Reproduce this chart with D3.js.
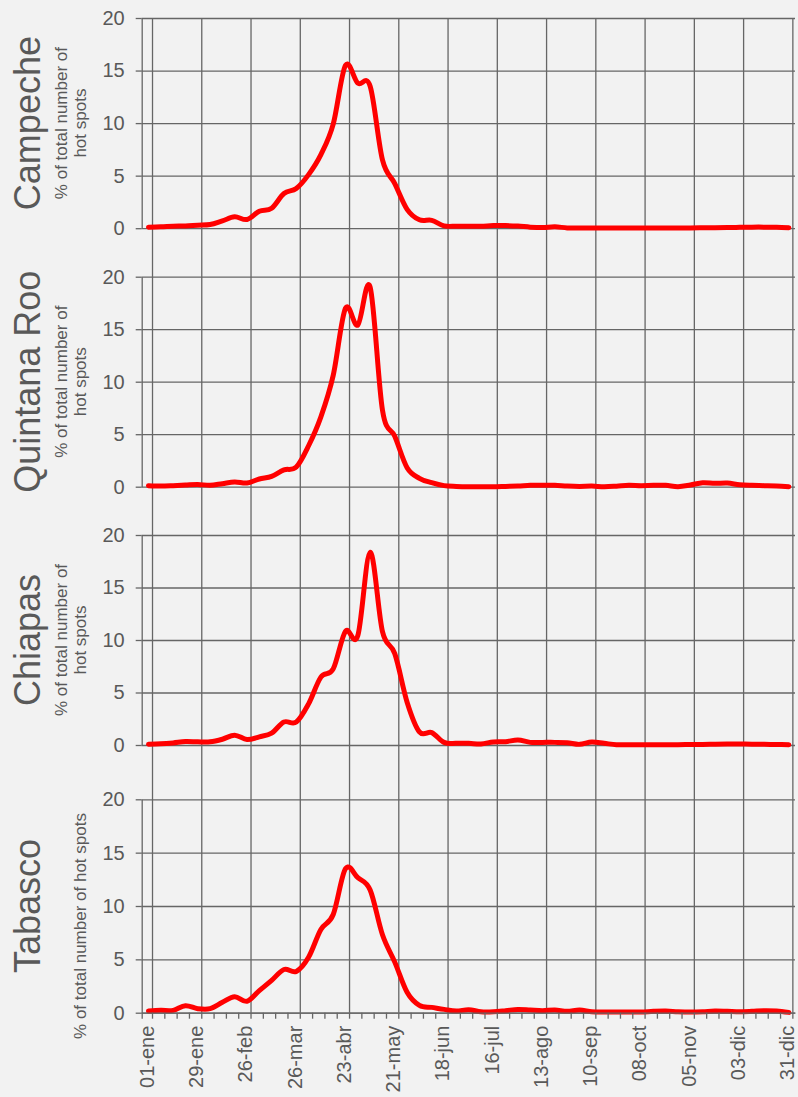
<!DOCTYPE html>
<html>
<head>
<meta charset="utf-8">
<script src="https://cdn.jsdelivr.net/npm/d3@7"></script>
<style>
    body { margin: 0; background: #f2f2f2; }
    text { font-family: "Liberation Sans", Arial, sans-serif; fill: #595959; }
    .grid line { stroke: #666666; stroke-width: 1.3; }
    .grid path { display: none; }
    .axis path, .axis line { stroke: #666666; stroke-width: 1.3; }
</style>
</head>
<body>
<div id="chart"></div>
<script>
// states, top to bottom
var states = ["Campeche", "Quintana Roo", "Chiapas", "Tabasco"];

// weekly % of total number of hot spots (first week starts 2 days before 01-ene)
var campeche = [0.1, 0.13, 0.19, 0.22, 0.29, 0.35, 0.7, 1.08, 0.83, 1.62,
    1.9, 3.3, 3.78, 5.1, 7.0, 9.9, 15.5, 13.8, 13.5, 6.5,
    4.25, 1.8, 0.8, 0.75, 0.22, 0.19, 0.19, 0.19, 0.25, 0.25,
    0.2, 0.1, 0.06, 0.13, 0.03, 0.03, 0.03, 0.03, 0.02, 0.02,
    0.02, 0.03, 0.02, 0.03, 0.03, 0.04, 0.05, 0.06, 0.08, 0.1,
    0.1, 0.08, 0.05];
var quintanaRoo = [0.1, 0.06, 0.1, 0.16, 0.22, 0.13, 0.29, 0.45, 0.35, 0.73,
    0.98, 1.6, 1.87, 3.9, 6.65, 10.6, 17.0, 15.4, 19.0, 7.3,
    4.8, 1.81, 0.8, 0.38, 0.1, 0.03, 0, 0, 0, 0.03,
    0.06, 0.13, 0.13, 0.13, 0.06, 0.03, 0.06, 0, 0.05, 0.13,
    0.1, 0.13, 0.13, 0, 0.16, 0.38, 0.32, 0.35, 0.19, 0.13,
    0.1, 0.06, 0];
var chiapas = [0.08, 0.11, 0.2, 0.33, 0.3, 0.3, 0.55, 0.94, 0.52, 0.78,
    1.13, 2.19, 2.19, 3.92, 6.46, 7.25, 10.84, 10.43, 18.36, 10.8,
    8.7, 4.08, 1.25, 1.18, 0.25, 0.16, 0.16, 0.1, 0.29, 0.32,
    0.48, 0.25, 0.25, 0.25, 0.22, 0.06, 0.29, 0.16, 0.02, 0.03,
    0.03, 0.03, 0.03, 0.03, 0.05, 0.05, 0.08, 0.1, 0.1, 0.08,
    0.06, 0.05, 0.03];
var tabasco = [0.16, 0.22, 0.22, 0.66, 0.38, 0.38, 0.97, 1.5, 1.07, 2.07,
    3.03, 4.05, 3.87, 5.2, 7.8, 9.2, 13.5, 12.65, 11.5, 7.3,
    4.74, 1.91, 0.68, 0.5, 0.31, 0.16, 0.28, 0.09, 0.09, 0.19,
    0.31, 0.25, 0.19, 0.25, 0.13, 0.25, 0.09, 0.06, 0.06, 0.06,
    0.06, 0.13, 0.16, 0.09, 0.06, 0.09, 0.16, 0.13, 0.09, 0.13,
    0.19, 0.16, 0.03];
var series = [campeche, quintanaRoo, chiapas, tabasco];

var yTicks = [0, 5, 10, 15, 20];
var tickLabels = ["01-ene", "29-ene", "26-feb", "26-mar", "23-abr", "21-may", "18-jun",
    "16-jul", "13-ago", "10-sep", "08-oct", "05-nov", "03-dic", "31-dic"];
var firstWeekDay = -2;

var w = 798, h = 1097;
var left = 141.7, right = 795;
// plot top / bottom of each panel
var panels = [
    { top: 18, bottom: 228.2 },
    { top: 276.7, bottom: 486.7 },
    { top: 535, bottom: 745 },
    { top: 799.3, bottom: 1012.7 }
];

var svg = d3.select('#chart').append('svg').attr('width', w).attr('height', h);
svg.append('rect').attr('width', w).attr('height', h).attr('fill', '#f2f2f2');

var tickDays = tickLabels.map(function (d, i) { return i * 28; });
var scale_x = d3.scaleLinear().domain([-5.86, 365.5]).range([left, right]);

var gridTop = panels[0].top, gridBottom = panels[3].bottom;

// vertical gridlines run through all four panels
svg.append('g').attr('class', 'grid')
    .attr('transform', 'translate(0,' + gridBottom + ')')
    .call(d3.axisBottom(scale_x).tickValues(tickDays).tickSize(-(gridBottom - gridTop)).tickFormat(''));

var line;
panels.forEach(function (p, i) {
    var scale_y = d3.scaleLinear().domain([0, 20]).range([p.bottom, p.top]);

    svg.append('g').attr('class', 'grid')
        .attr('transform', 'translate(' + left + ',0)')
        .call(d3.axisLeft(scale_y).tickValues(yTicks).tickSize(-(right - left)).tickFormat(''));

    var yBar = svg.append('g').attr('class', 'axis')
        .attr('transform', 'translate(' + left + ',0)')
        .call(d3.axisLeft(scale_y).tickValues(yTicks).tickSizeInner(6).tickSizeOuter(0).tickPadding(11));
    yBar.selectAll('text').style('font-size', '20px').attr('fill', '#595959');

    line = d3.line()
        .x(function (d, k) { return scale_x(firstWeekDay + 7 * k); })
        .y(function (d) { return scale_y(d); })
        .curve(d3.curveCatmullRom.alpha(0));

    svg.append('path').datum(series[i])
        .attr('d', line)
        .attr('fill', 'none')
        .attr('stroke', '#ff0000')
        .attr('stroke-width', 5)
        .attr('stroke-linejoin', 'round')
        .attr('stroke-linecap', 'round');

    var cy = (p.top + p.bottom) / 2;
    svg.append('text')
        .attr('transform', 'translate(40,' + cy + ') rotate(-90)')
        .attr('text-anchor', 'middle')
        .style('font-size', '36px')
        .text(states[i]);

    if (i < 3) {
        svg.append('text')
            .attr('transform', 'translate(67,' + cy + ') rotate(-90)')
            .attr('text-anchor', 'middle')
            .style('font-size', '17px')
            .text('% of total number of');
        svg.append('text')
            .attr('transform', 'translate(86,' + cy + ') rotate(-90)')
            .attr('text-anchor', 'middle')
            .style('font-size', '17px')
            .text('hot spots');
    } else {
        svg.append('text')
            .attr('transform', 'translate(86,' + (cy + 20) + ') rotate(-90)')
            .attr('text-anchor', 'middle')
            .style('font-size', '17px')
            .text('% of total number of hot spots');
    }
});

// bottom date axis: weekly minor ticks and 28-day labels
var minorDays = [-5.86].concat(d3.range(0, 365, 7));
svg.append('g').attr('class', 'axis')
    .attr('transform', 'translate(0,' + gridBottom + ')')
    .call(d3.axisBottom(scale_x).tickValues(minorDays).tickSizeInner(6).tickSizeOuter(0).tickFormat(''));

var xBar = svg.append('g').attr('class', 'axis')
    .attr('transform', 'translate(0,' + gridBottom + ')')
    .call(d3.axisBottom(scale_x).tickValues(tickDays).tickSize(0)
        .tickFormat(function (d, i) { return tickLabels[i]; }));
xBar.select('.domain').remove();
xBar.selectAll('text')
    .attr('transform', 'rotate(-90)')
    .attr('x', -13)
    .attr('y', 0)
    .attr('dy', '0.07em')
    .style('text-anchor', 'end')
    .style('font-size', '20px')
    .attr('fill', '#595959');
</script>
</body>
</html>
